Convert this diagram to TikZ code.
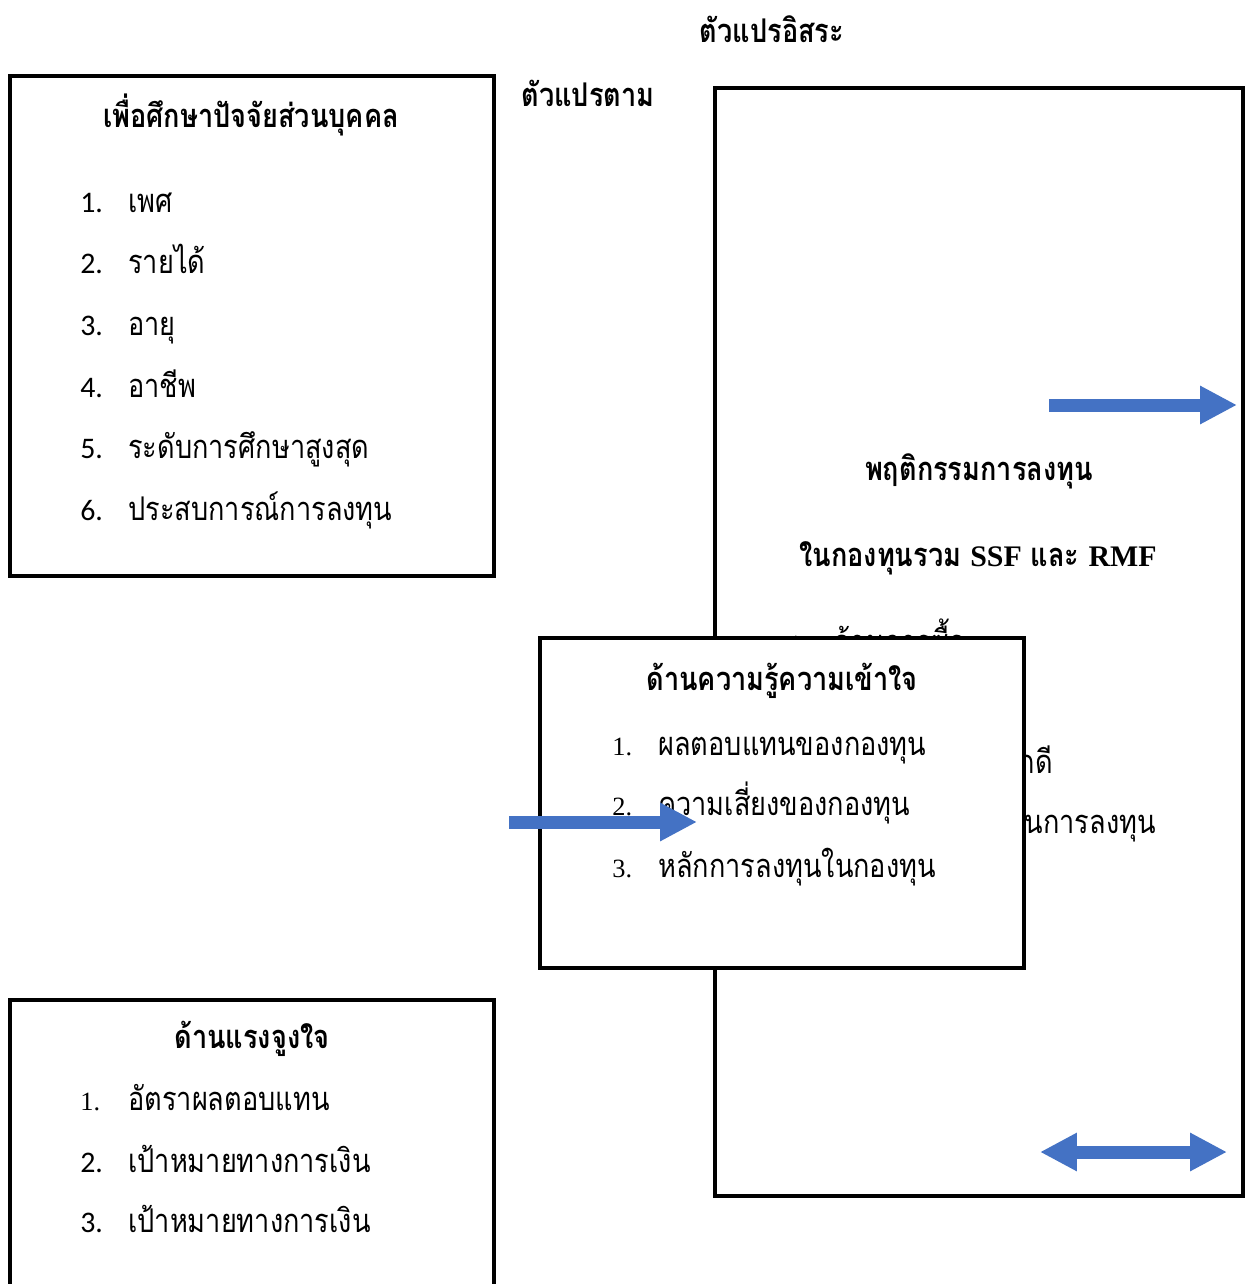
\documentclass[tikz,border=0pt]{standalone}
\usepackage{fontspec}
\setmainfont{Liberation Serif}
\newfontfamily\thai[Script=Thai, FakeStretch=0.83]{Loma}
\newfontfamily\calib{Carlito}
\newfontfamily\lat{Liberation Serif}
\usetikzlibrary{arrows.meta}
\definecolor{arrowblue}{HTML}{4472C4}
\tikzset{
  frame/.style={draw=black, line width=2.4pt},
  ttl/.style={font=\thai\bfseries\fontsize{18.6}{22}\selectfont, inner sep=0pt, anchor=base},
  body/.style={font=\thai\fontsize{18.6}{22}\selectfont, anchor=base west, inner sep=0pt},
  bodyend/.style={font=\thai\fontsize{18.6}{22}\selectfont, anchor=base east, inner sep=0pt},
  numsans/.style={font=\calib\fontsize{17}{20}\selectfont, anchor=base west, inner sep=0pt},
  numserif/.style={font=\lat\fontsize{15}{18}\selectfont, anchor=base west, inner sep=0pt},
  blockarrow/.style={draw=arrowblue, line width=7.4pt},
}
\begin{document}
\begin{tikzpicture}[x=0.02cm,y=-0.02cm]
\useasboundingbox (0,0) rectangle (1247,1284);
\clip (0,0) rectangle (1247,1284);
\fill[white] (0,0) rectangle (1247,1284);

% top labels
\node[ttl] (indep) at (772,43) {ตัวแปรอิสระ};
\node[ttl] (dep) at (588,107) {ตัวแปรตาม};

% right box (dependent variable)
\draw[frame] (715,88) rectangle (1243,1196);
\node[ttl] (rt1) at (979,480) {พฤติกรรมการลงทุน};
\node[ttl] (rt2) at (978,566) {ในกองทุนรวม {\lat\fontsize{17}{20}\selectfont SSF} และ {\lat\fontsize{17}{20}\selectfont RMF}};
\node[numserif] (rn1) at (788,653) {1.};
\node[body] (ri1) at (833,653) {ด้านการซื้อ};
\node[bodyend] (ri3) at (1053,773) {ด้านเลือกดี};
\node[bodyend] (ri4) at (1156,833) {ด้านความถี่ในการลงทุน};

% right arrows
\coordinate (a1s) at (1049,405);
\coordinate (a1e) at (1237,405);
\draw[blockarrow, -{Triangle[length=21pt,width=20.4pt]}] (a1s) -- (a1e);
\coordinate (a2s) at (1040,1152);
\coordinate (a2e) at (1227,1152);
\draw[blockarrow, {Triangle[length=21pt,width=20.4pt]}-{Triangle[length=21pt,width=20.4pt]}] (a2s) -- (a2e);

% left top box
\draw[frame] (10,76) rectangle (494,576);
\node[ttl] (lt) at (251,128) {เพื่อศึกษาปัจจัยส่วนบุคคล};
\node[numsans] (ln1) at (80,213) {1.};
\node[body] (li1) at (128,213) {เพศ};
\node[numsans] (ln2) at (80,274) {2.};
\node[body] (li2) at (128,274) {รายได้};
\node[numsans] (ln3) at (80,335) {3.};
\node[body] (li3) at (128,335) {อายุ};
\node[numsans] (ln4) at (80,397) {4.};
\node[body] (li4) at (128,397) {อาชีพ};
\node[numsans] (ln5) at (80,458) {5.};
\node[body] (li5) at (128,458) {ระดับการศึกษาสูงสุด};
\node[numsans] (ln6) at (80,520) {6.};
\node[body] (li6) at (128,520) {ประสบการณ์การลงทุน};

% left bottom box
\draw[frame] (10,1000) rectangle (494,1330);
\node[ttl] (bt) at (252,1048) {ด้านแรงจูงใจ};
\node[numserif] (bn1) at (80,1110) {1.};
\node[body] (bi1) at (128,1110) {อัตราผลตอบแทน};
\node[numsans] (bn2) at (80,1172) {2.};
\node[body] (bi2) at (128,1172) {เป้าหมายทางการเงิน};
\node[numsans] (bn3) at (80,1232) {3.};
\node[body] (bi3) at (128,1232) {เป้าหมายทางการเงิน};

% middle box (on top)
\draw[frame, fill=white] (540,638) rectangle (1024,968);
\node[ttl] (mt) at (782,690) {ด้านความรู้ความเข้าใจ};
\node[numserif] (mn1) at (612,755) {1.};
\node[body] (mi1) at (658,755) {ผลตอบแทนของกองทุน};
\node[numserif] (mn2) at (612,815) {2.};
\node[body] (mi2) at (658,815) {ความเสี่ยงของกองทุน};
\node[numserif] (mn3) at (612,877) {3.};
\node[body] (mi3) at (658,877) {หลักการลงทุนในกองทุน};

% middle arrow
\coordinate (a3s) at (509,822);
\coordinate (a3e) at (697,822);
\draw[blockarrow, -{Triangle[length=21pt,width=20.4pt]}] (a3s) -- (a3e);
\end{tikzpicture}
\end{document}
